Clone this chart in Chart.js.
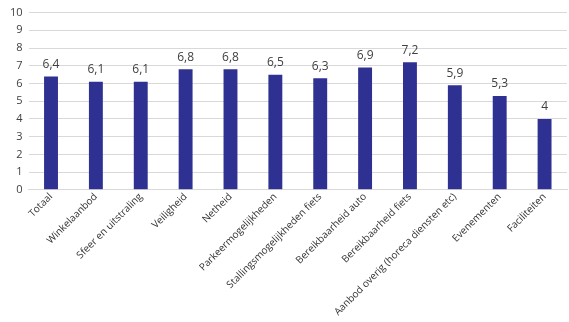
<!DOCTYPE html>
<html>
<head>
<meta charset="utf-8">
<script src="https://cdn.jsdelivr.net/npm/chart.js@4/dist/chart.umd.min.js"></script>
<style>
  html, body { margin: 0; padding: 0; background: #fff; }
  #chart { display: block; }
</style>
</head>
<body>
<canvas id="chart" width="569" height="322"></canvas>
<script>
const categories = [
    "Totaal", "Winkelaanbod", "Sfeer en uitstraling", "Veiligheid", "Netheid",
    "Parkeermogelijkheden", "Stallingsmogelijkheden fiets", "Bereikbaarheid auto",
    "Bereikbaarheid fiets", "Aanbod overig (horeca diensten etc)", "Evenementen", "Faciliteiten"
];
const scores = [6.4, 6.1, 6.1, 6.8, 6.8, 6.5, 6.3, 6.9, 7.2, 5.9, 5.3, 4];
const yTicks = [0, 1, 2, 3, 4, 5, 6, 7, 8, 9, 10];

// draws the value above each bar, Dutch decimal comma
const valueLabels = {
    id: "valueLabels",
    afterDatasetsDraw(chart) {
        const ctx = chart.ctx;
        const meta = chart.getDatasetMeta(0);
        ctx.save();
        ctx.font = "12px 'Open Sans', sans-serif";
        ctx.fillStyle = "#404040";
        ctx.textAlign = "center";
        ctx.textBaseline = "bottom";
        meta.data.forEach((bar, i) => {
            const txt = String(scores[i]).replace(".", ",");
            ctx.fillText(txt, bar.x, bar.y - 6);
        });
        ctx.restore();
    }
};

let ctx = document.getElementById("chart").getContext("2d");
let chart = new Chart(ctx, {
    type: "bar",
    data: {
        labels: categories,
        datasets: [{
            data: scores,
            backgroundColor: "#2E3192",
            categoryPercentage: 1,
            barPercentage: 0.31
        }]
    },
    options: {
        responsive: false,
        animation: false,
        layout: {
            padding: { left: 4, right: 2, top: 4, bottom: 3 }
        },
        plugins: {
            legend: { display: false },
            tooltip: { enabled: false }
        },
        scales: {
            x: {
                grid: { display: false, drawTicks: false },
                border: { color: "#d9d9d9" },
                ticks: {
                    color: "#333333",
                    font: { family: "'Open Sans', sans-serif", size: 10 },
                    maxRotation: 45,
                    minRotation: 45,
                    autoSkip: false,
                    padding: 1
                }
            },
            y: {
                min: 0,
                max: 10,
                afterBuildTicks: (axis) => {
                    axis.ticks = yTicks.map(v => ({ value: v }));
                },
                grid: { color: "#d9d9d9", drawTicks: false },
                border: { display: false },
                ticks: {
                    color: "#404040",
                    font: { family: "'Open Sans', sans-serif", size: 11 },
                    padding: 6
                }
            }
        }
    },
    plugins: [valueLabels]
});
</script>
</body>
</html>
